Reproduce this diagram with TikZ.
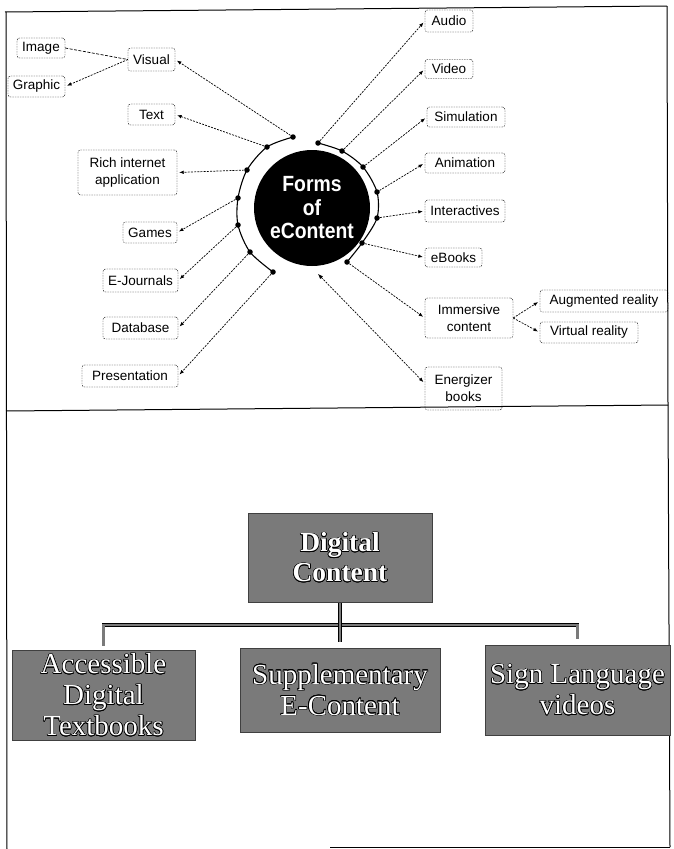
\documentclass[tikz,border=0pt]{standalone}
\usepackage{fontspec}
\setmainfont{Liberation Serif}
\newfontfamily\labsans{Liberation Sans}
\newfontfamily\condsans[FakeStretch=0.88]{Liberation Sans}
\usepackage{contour}
\contourlength{0.6pt}
\usetikzlibrary{arrows.meta}
\definecolor{boxgray}{RGB}{122,122,122}
\newcommand\outl[1]{\contour{black}{#1}}
\begin{document}
\begin{tikzpicture}[x=1pt,y=-1pt,
  lab/.style={draw, dash pattern=on 1.5pt off 1pt, rounded corners=2.5pt,
    font=\labsans\fontsize{13.5}{17}\selectfont, inner sep=1pt, align=center},
  conn/.style={dash pattern=on 2pt off 1.2pt, line width=0.7pt,
    -{Latex[length=4.5pt,width=3.6pt]}, shorten >=2pt},
  plainconn/.style={dash pattern=on 3pt off 1.5pt, line width=0.7pt},
  dotn/.style={circle, fill=black, inner sep=0pt, minimum size=5.5pt},
  ring/.style={line width=1.1pt},
  gbox/.style={draw=black!75, line width=0.6pt, fill=boxgray, text=white, align=center,
    font=\fontsize{29}{31}\selectfont, inner sep=0pt},
  bar/.style={draw=black, line width=0.8pt, double=boxgray, double distance=2.2pt},
  frame/.style={line width=1pt}
]
\useasboundingbox (0,0) rectangle (674,849);

% frames
\draw[frame] (5,12) -- (667,6);
\draw[frame] (667,6) -- (668,405);
\draw[frame] (6,411) -- (668,405);
\draw[frame] (6,12) -- (7,849);
\draw[frame] (668,405) -- (670,847);
\draw[frame] (330,847) -- (670,847);

% hub
\node[circle, fill=black, text=white, minimum size=116pt, inner sep=0pt, align=center,
  font=\condsans\bfseries\fontsize{22}{23.5}\selectfont] (hub) at (312,208) {Forms\\of\\eContent};

% ring dots
\foreach \n/\x/\y in {Lv/293/137, Lt/267/147, Lr/247/170, Lg/238/198, Le/238/225,
  Ld/250/252, Lp/273/272, Ra/318/143, Rv/342/151, Rs/363/167, Rn/377/192,
  Ri/377/218, Rb/362/243, Rm/347/262}
  \node[dotn] (\n) at (\x,\y) {};
\coordinate (Re) at (318,274);

\draw[ring] plot[smooth] coordinates {(Lv) (Lt) (Lr) (Lg) (Le) (Ld) (Lp)};
\draw[ring] plot[smooth] coordinates {(Ra) (Rv) (Rs) (Rn) (Ri) (Rb) (Rm)};

% left labels
\node[lab, minimum width=48pt, minimum height=20pt] (image) at (41,48) {Image};
\node[lab, minimum width=57pt, minimum height=21pt] (graphic) at (36.5,86.5) {Graphic};
\node[lab, minimum width=47pt, minimum height=23pt] (visual) at (151.5,59.5) {Visual};
\node[lab, minimum width=47pt, minimum height=21pt] (txt) at (151.5,114.5) {Text};
\node[lab, minimum width=99pt, minimum height=45pt] (ria) at (127.5,172.5) {Rich internet\\application};
\node[lab, minimum width=54pt, minimum height=21pt] (games) at (150,232.5) {Games};
\node[lab, minimum width=75pt, minimum height=23pt] (ejour) at (140.5,280.5) {E-Journals};
\node[lab, minimum width=75pt, minimum height=22pt] (dbase) at (140.5,328) {Database};
\node[lab, minimum width=96pt, minimum height=22pt] (pres) at (130,376) {Presentation};

% right labels
\node[lab, minimum width=48pt, minimum height=22pt] (audio) at (449,21) {Audio};
\node[lab, minimum width=48pt, minimum height=19pt] (video) at (449,69) {Video};
\node[lab, minimum width=78pt, minimum height=20pt] (simul) at (466,117) {Simulation};
\node[lab, minimum width=80pt, minimum height=20pt] (anim) at (465,163) {Animation};
\node[lab, minimum width=80pt, minimum height=22pt] (inter) at (465,211) {Interactives};
\node[lab, minimum width=57pt, minimum height=19pt] (ebooks) at (453.5,257.5) {eBooks};
\node[lab, minimum width=88pt, minimum height=40pt] (immer) at (469,318) {Immersive\\content};
\node[lab, minimum width=128pt, minimum height=22pt] (augm) at (604,301) {Augmented reality};
\node[lab, minimum width=98pt, minimum height=21pt] (virt) at (589,332.5) {Virtual reality};
\node[lab, minimum width=77pt, minimum height=43pt] (energ) at (463.5,388.5) {Energizer\\books};

% connectors left
\draw[plainconn] (image.east) -- (visual.west);
\draw[conn] (visual.west) -- (graphic.east);
\draw[conn] (Lv) -- (visual.east);
\draw[conn] (Lt) -- (txt.east);
\draw[conn] (Lr) -- (ria.east);
\draw[conn] (Lg) -- (games.east);
\draw[conn] (Le) -- (ejour.east);
\draw[conn] (Ld) -- (dbase.east);
\draw[conn] (Lp) -- (pres.east);

% connectors right
\draw[conn] (Ra) -- (audio.west);
\draw[conn] (Rv) -- (video.west);
\draw[conn] (Rs) -- (simul.west);
\draw[conn] (Rn) -- (anim.west);
\draw[conn] (Ri) -- (inter.west);
\draw[conn] (Rb) -- (ebooks.west);
\draw[conn] (Rm) -- (immer.west);
\draw[conn] (immer.east) -- (augm.west);
\draw[conn] (immer.east) -- (virt.west);
\draw[conn, {Latex[length=5pt,width=4pt]}-{Latex[length=4.5pt,width=3.6pt]}]
  (Re) -- ([yshift=5pt]energ.west);

% bottom chart
\node[gbox, font=\bfseries\fontsize{27.5}{30}\selectfont, minimum width=184pt, minimum height=89pt]
  (dc) at (340,557.5) {\outl{Digital}\\\outl{Content}};
\node[gbox, minimum width=183pt, minimum height=90pt] (acc) at (103.5,695)
  {\outl{Accessible}\\\outl{Digital}\\\outl{Textbooks}};
\node[gbox, minimum width=200pt, minimum height=84pt] (supp) at (340,690)
  {\outl{Supplementary}\\\outl{E-Content}};
\node[gbox, minimum width=185pt, minimum height=90pt] (sign) at (577.5,690)
  {\outl{Sign Language}\\\outl{videos}};

\coordinate (barR) at (577.5,625);
\draw[bar] ([yshift=4pt]acc.north) |- (barR) -- ([yshift=6pt]sign.north);
\draw[bar] ([yshift=-1pt]dc.south) -- ([yshift=6pt]supp.north);
\end{tikzpicture}
\end{document}
